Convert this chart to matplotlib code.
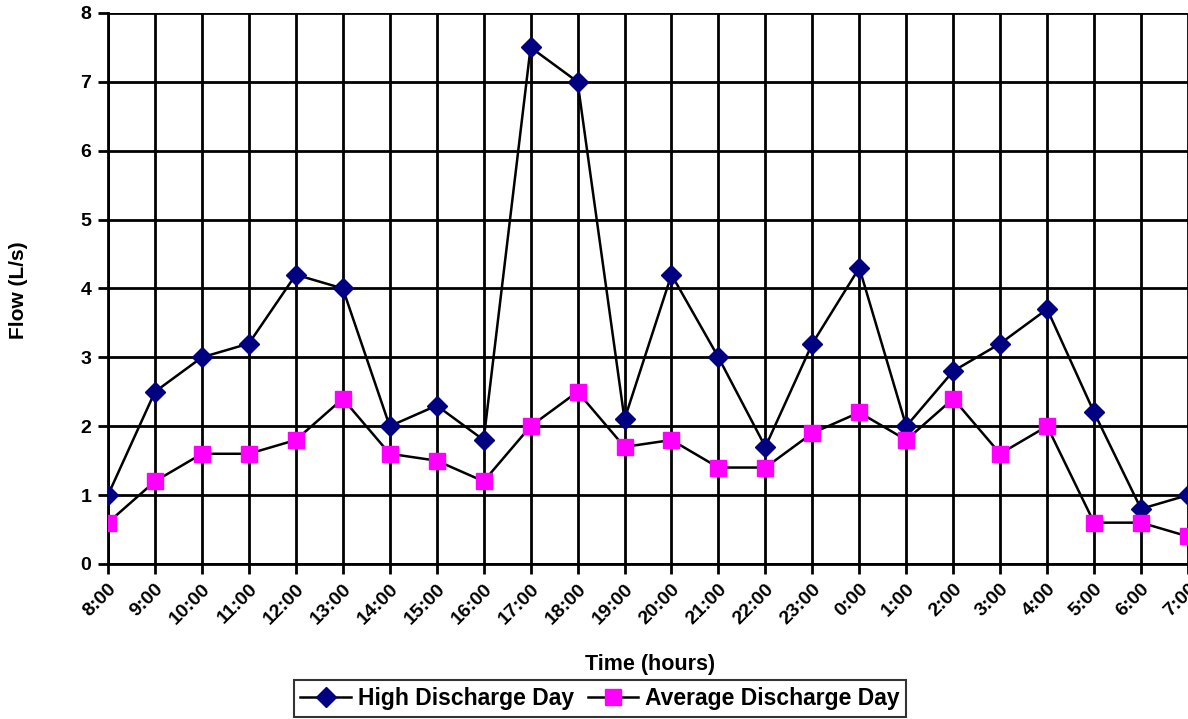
import matplotlib.pyplot as plt

hours = ["8:00", "9:00", "10:00", "11:00", "12:00", "13:00", "14:00", "15:00",
         "16:00", "17:00", "18:00", "19:00", "20:00", "21:00", "22:00", "23:00",
         "0:00", "1:00", "2:00", "3:00", "4:00", "5:00", "6:00", "7:00"]
high = [1.0, 2.5, 3.0, 3.2, 4.2, 4.0, 2.0, 2.3, 1.8, 7.5, 7.0, 2.1,
        4.2, 3.0, 1.7, 3.2, 4.3, 2.0, 2.8, 3.2, 3.7, 2.2, 0.8, 1.0]
average = [0.6, 1.2, 1.6, 1.6, 1.8, 2.4, 1.6, 1.5, 1.2, 2.0, 2.5, 1.7,
           1.8, 1.4, 1.4, 1.9, 2.2, 1.8, 2.4, 1.6, 2.0, 0.6, 0.6, 0.4]

plt.rcParams['font.family'] = ['Liberation Sans', 'DejaVu Sans']
plt.rcParams['font.weight'] = 'bold'

fig = plt.figure(figsize=(11.88, 7.19), dpi=100)
ax = fig.add_axes([0.0909, 0.2156, 0.9091, 0.7664])

x = list(range(len(hours)))
ax.plot(x, high, color='black', lw=1.8, marker='D', ms=10,
        mfc='#000080', mec='#000080', label='High Discharge Day', zorder=3)
ax.plot(x, average, color='black', lw=1.8, marker='s', ms=11.5,
        mfc='#FF00FF', mec='#FF00FF', label='Average Discharge Day', zorder=3)

ax.set_xlim(0, len(hours) - 1)
ax.set_ylim(0, 8)
ax.set_xticks(x)
ax.set_xticklabels(hours, rotation=45, ha='right', rotation_mode='anchor',
                   fontsize=14, fontweight='bold')
ax.set_yticks(range(0, 9))
ax.set_yticklabels([str(v) for v in range(0, 9)], fontsize=14, fontweight='bold')
ax.tick_params(axis='both', direction='out', length=7, width=2, color='black', pad=5)
ax.grid(True, color='black', lw=2)
ax.set_axisbelow(True)
for s in ['top', 'right']:
    ax.spines[s].set_visible(False)
for s in ['left', 'bottom']:
    ax.spines[s].set_linewidth(2)

ax.set_ylabel('Flow (L/s)', fontsize=15, fontweight='bold')
ax.yaxis.set_label_coords(-0.074, 0.497)
ax.set_xlabel('Time (hours)', fontsize=15.5, fontweight='bold')
ax.xaxis.set_label_coords(0.502, -0.163)

leg = fig.legend(loc='lower center', bbox_to_anchor=(0.505, 0.0), ncol=2,
                 fontsize=16.5, frameon=True, fancybox=False, edgecolor='black',
                 handlelength=2.2, columnspacing=0.6, handletextpad=0.3,
                 borderpad=0.3, borderaxespad=0.1)
leg.get_frame().set_linewidth(1.5)
for t in leg.get_texts():
    t.set_fontweight('bold')

fig.savefig('out.png', dpi=100)
